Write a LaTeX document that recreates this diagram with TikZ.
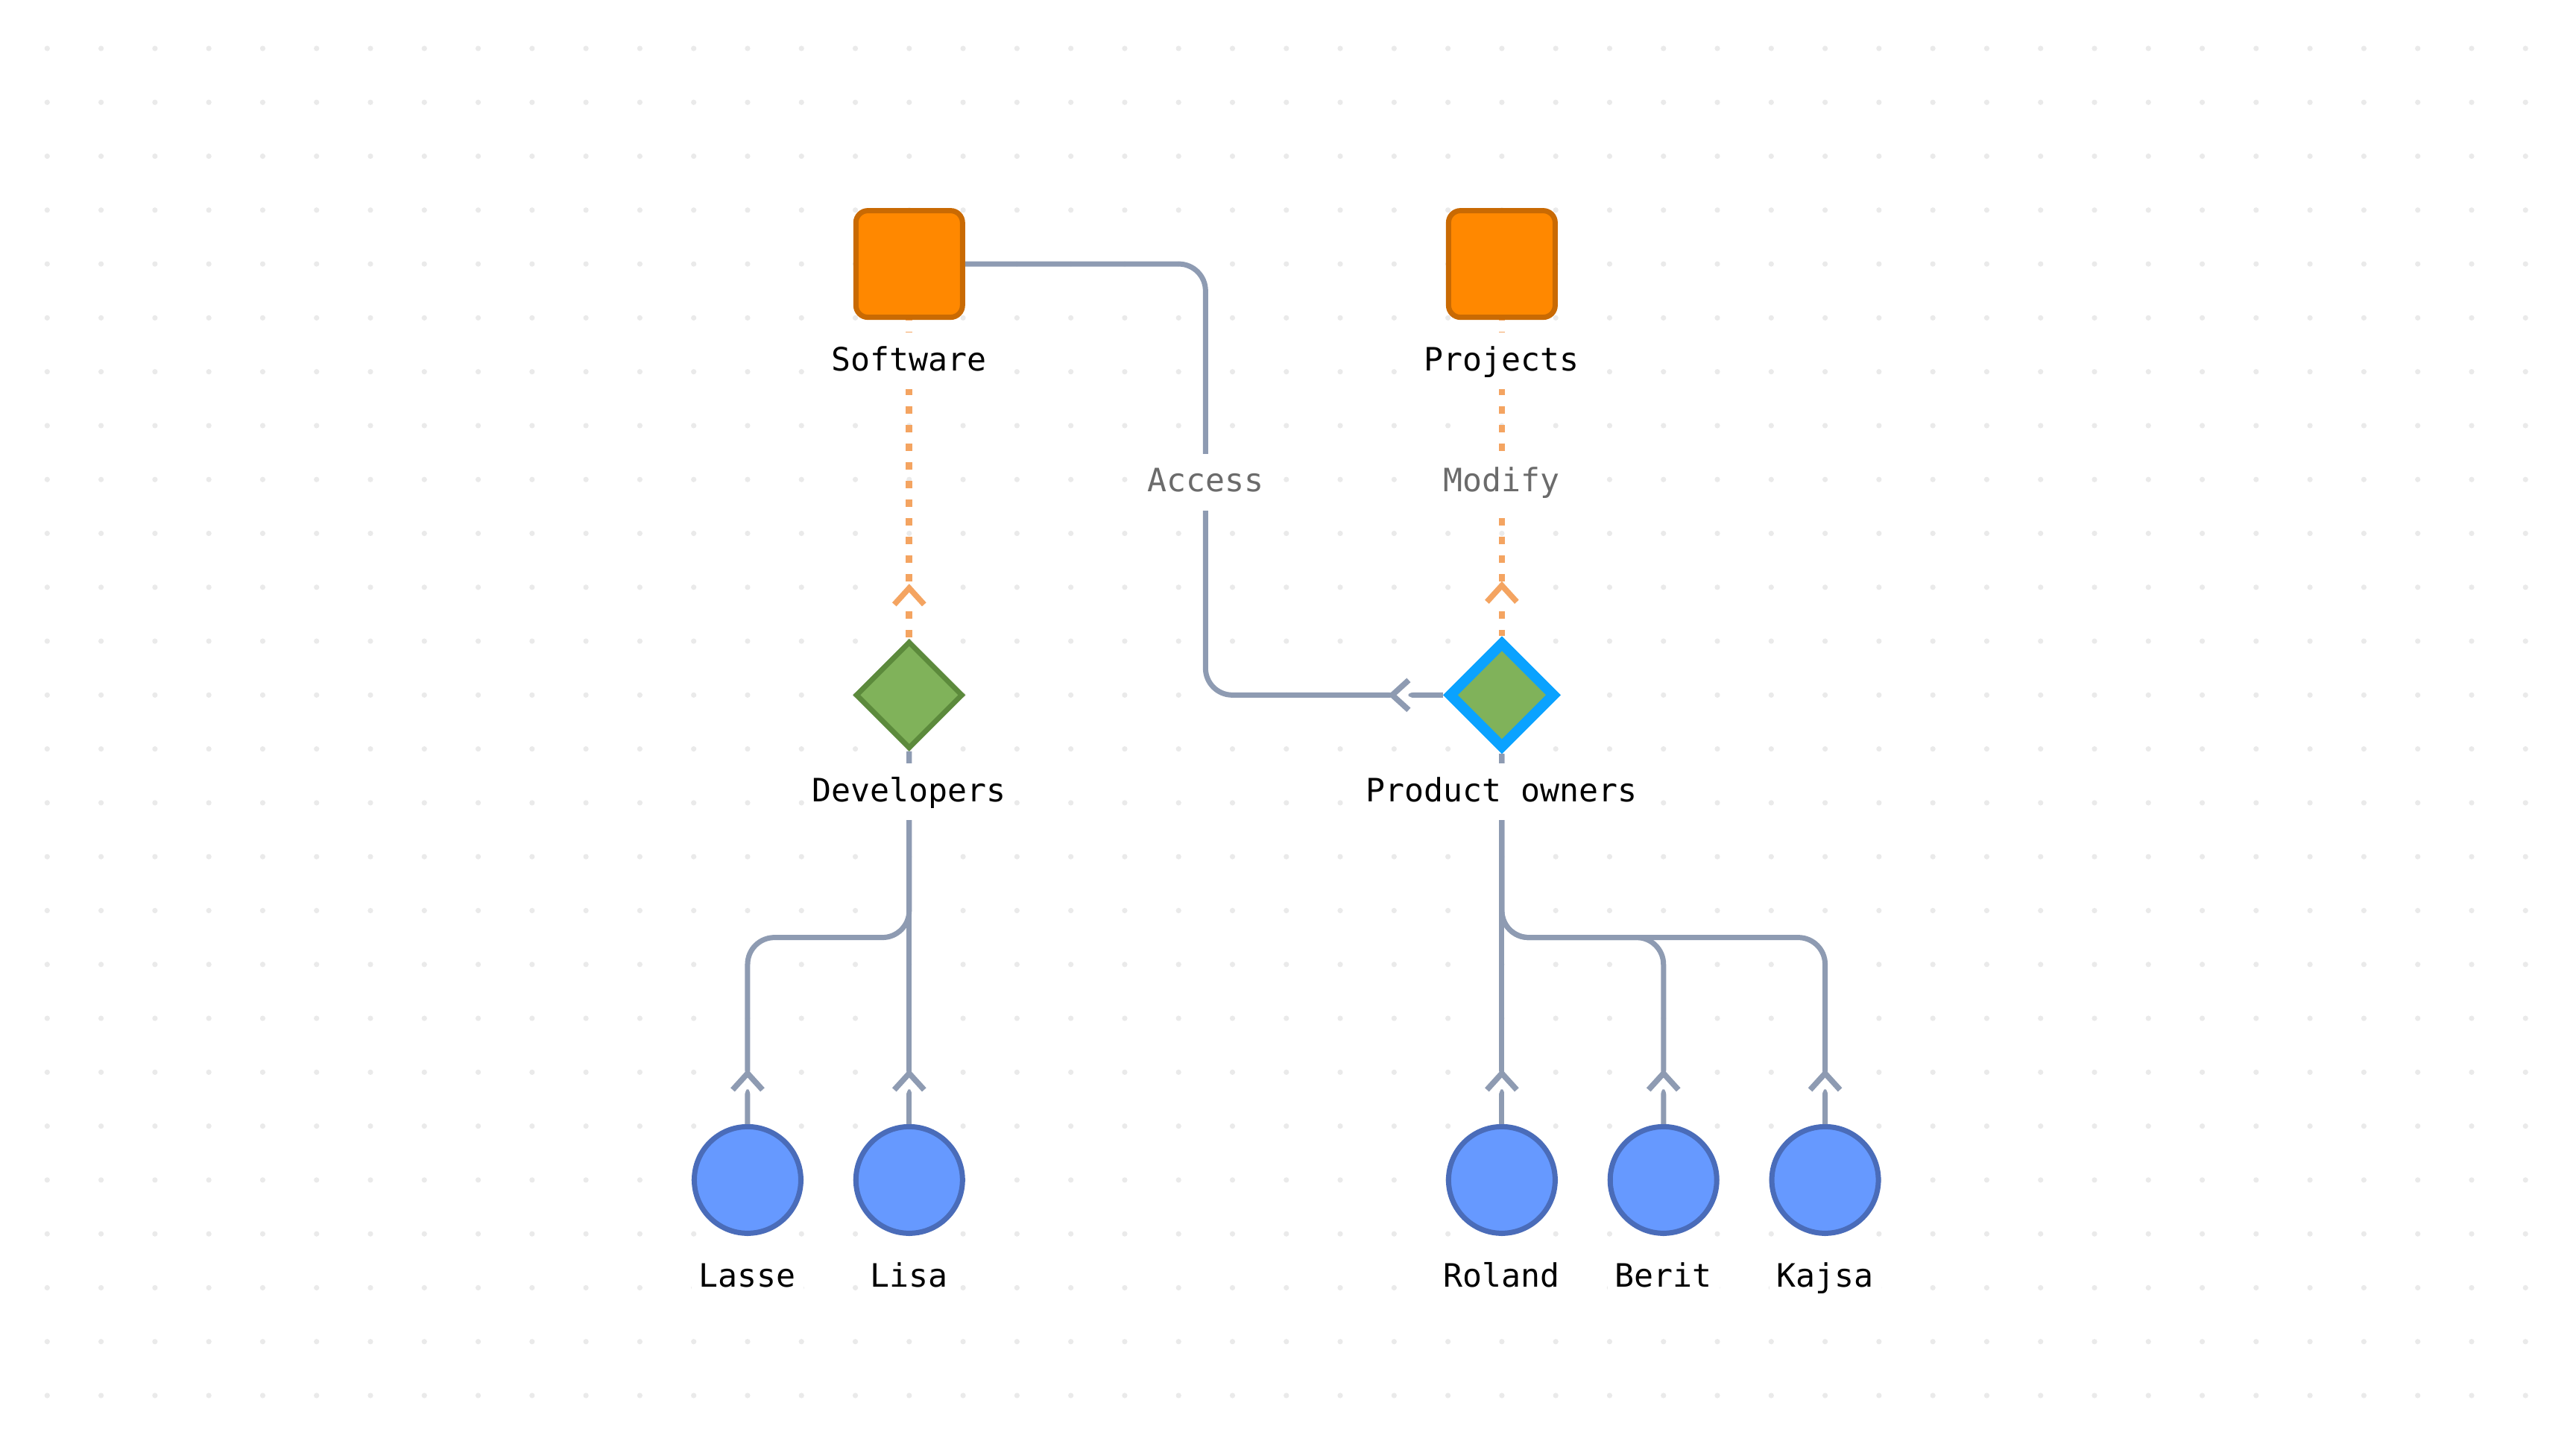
\documentclass[tikz,border=0pt]{standalone}
\usepackage{fontspec}
\setmonofont{DejaVu Sans Mono}
\usetikzlibrary{shapes.geometric,decorations.markings,positioning}

\definecolor{boxfill}{HTML}{FF8800}
\definecolor{boxline}{HTML}{C96A03}
\definecolor{grpfill}{HTML}{80B25A}
\definecolor{grpline}{HTML}{5C8A3C}
\definecolor{selline}{HTML}{0AA2FF}
\definecolor{usrfill}{HTML}{6699FF}
\definecolor{usrline}{HTML}{4A6CB9}
\definecolor{linkc}{HTML}{8E9BB2}
\definecolor{permc}{HTML}{F4A461}
\definecolor{tagc}{HTML}{6B6B6B}
\definecolor{dotc}{HTML}{EAEAEA}

\tikzset{
  res/.style={draw=boxline,fill=boxfill,line width=1.75pt,rounded corners=4pt,minimum size=35.75pt,inner sep=0pt},
  grp/.style={diamond,aspect=1,draw=grpline,fill=grpfill,line width=1.75pt,minimum size=36pt,inner sep=0pt},
  usr/.style={circle,draw=usrline,fill=usrfill,line width=1.75pt,minimum size=35.75pt,inner sep=0pt},
  txt/.style={fill=white,font=\ttfamily\fontsize{10.8pt}{13pt}\selectfont,text height=9.2pt,text depth=2.7pt,inner xsep=2.5pt,inner ysep=3.55pt},
  tag/.style={txt,text=tagc},
  crow/.style={postaction={decorate},decoration={markings,mark=at position -17pt with {
    \fill[white] (0.6pt,-1.4pt) rectangle (5.4pt,1.4pt);
    \draw[#1,solid,sharp corners,line width=1.9pt,line cap=butt,line join=miter] (5.5pt,5pt) -- (0,0) -- (5.5pt,-5pt);}}},
  link/.style={draw=linkc,line width=1.75pt,rounded corners=9pt,crow=linkc},
  perm/.style={draw=permc,line width=2.2pt,dash pattern=on 2.5pt off 3.75pt,dash phase=2.25pt,crow=permc}
}

\begin{document}
\begin{tikzpicture}[x=18.07pt,y=-18.07pt]
\fill[white] (-0.876,-0.899) rectangle (46.938,25.775);
\useasboundingbox (-0.876,-0.899) rectangle (46.938,25.775);
\foreach \i in {0,...,46}
  \foreach \j in {0,...,25}
    \fill[dotc] (\i,\j) circle (0.9pt);

\node[res] (soft) at (16,4) {};
\node[res] (proj) at (27,4) {};
\node[grp] (dev) at (16,12) {};
\node[grp,draw=selline,line width=3.5pt] (po) at (27,12) {};
\node[usr] (lasse) at (13,21) {};
\node[usr] (lisa) at (16,21) {};
\node[usr] (roland) at (27,21) {};
\node[usr] (berit) at (30,21) {};
\node[usr] (kajsa) at (33,21) {};

\coordinate (accbend) at (21.5,8);
\coordinate (devbus) at (16,16.5);
\coordinate (pobus) at (27,16.5);

\draw[link] (soft.east) -| (accbend) |- (po.west);
\draw[perm] (soft.south) -- (dev.north);
\draw[perm] (proj.south) -- (po.north);
\draw[link] (dev.south) -- (lisa.north);
\draw[link] (dev.south) -- (devbus) -| (lasse.north);
\draw[link] (po.south) -- (roland.north);
\draw[link] (po.south) -- (pobus) -| (berit.north);
\draw[link] (po.south) -- (pobus) -| (kajsa.north);

\node[txt] (softlbl) at (16,5.80) {Software};
\node[txt] (projlbl) at (27,5.80) {Projects};
\node[txt] (devlbl) at (16,13.80) {Developers};
\node[txt] (polbl) at (27,13.80) {Product owners};
\node[tag] (acclbl) at (21.5,8.05) {Access};
\node[tag] (modlbl) at (27,8.05) {Modify};
\node[txt] (lasselbl) at (13,22.81) {Lasse};
\node[txt] (lisalbl) at (16,22.81) {Lisa};
\node[txt] (rolandlbl) at (27,22.81) {Roland};
\node[txt] (beritlbl) at (30,22.81) {Berit};
\node[txt] (kajsalbl) at (33,22.81) {Kajsa};
\end{tikzpicture}
\end{document}
